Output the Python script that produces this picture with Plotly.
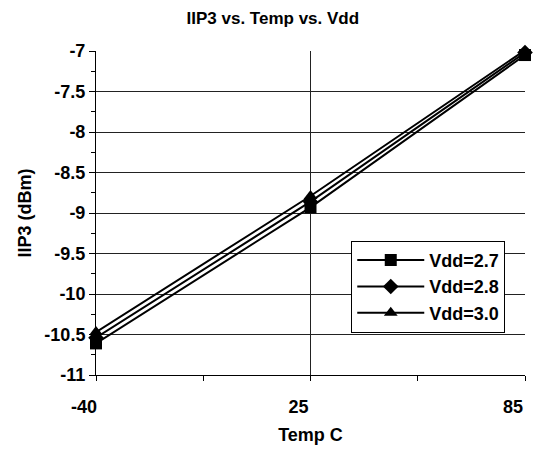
import plotly.graph_objects as go

temps = ["-40", "25", "85"]
vdd27 = [-10.61, -8.93, -7.05]
vdd28 = [-10.54, -8.86, -7.02]
vdd30 = [-10.47, -8.79, -6.99]
series_names = ["Vdd=2.7", "Vdd=2.8", "Vdd=3.0"]
y_ticks = [-11, -10.5, -10, -9.5, -9, -8.5, -8, -7.5, -7]

FONT = "Liberation Sans, Arial, sans-serif"
BOLD18 = dict(family=FONT, size=18, color="black", weight="bold")

fig = go.Figure()
symbols = ["square", "diamond", "triangle-up"]
sizes = [12, 12, 12]
for name, vals, sym, sz in zip(series_names, [vdd27, vdd28, vdd30], symbols, sizes):
    fig.add_trace(go.Scatter(
        x=temps, y=vals, name=name, mode="lines+markers",
        line=dict(color="black", width=2),
        marker=dict(symbol=sym, size=sz, color="black"),
        cliponaxis=False,
    ))

# page body has an 8px margin, so the figure is sized/offset to compensate
fig.update_layout(
    width=535, height=443,
    margin=dict(l=88, r=18, t=43, b=76),
    paper_bgcolor="white", plot_bgcolor="white",
    font=BOLD18,
    title=dict(text="IIP3 vs. Temp vs. Vdd", x=0.495, xanchor="center",
               y=0.977, yanchor="middle",
               font=dict(family=FONT, size=17, color="black", weight="bold")),
    legend=dict(x=0.595, y=0.414, xanchor="left", yanchor="top",
                bgcolor="white", bordercolor="black", borderwidth=1,
                font=BOLD18, tracegroupgap=0, itemwidth=67),
    showlegend=True,
)
fig.update_xaxes(
    type="category", range=[0, 2], automargin=False,
    title=dict(text="Temp C", standoff=12, font=BOLD18),
    tickfont=BOLD18,
    ticklabelshift=-12, ticklabelstandoff=10,
    showline=True, linecolor="black", linewidth=1,
    ticks="outside", ticklen=5, tickcolor="black",
    minor=dict(tickvals=[0.5, 1.5], ticks="outside", ticklen=5,
               tickcolor="black", showgrid=False),
    showgrid=True, gridcolor="#222", gridwidth=1,
    zeroline=False, mirror=False,
)
fig.update_yaxes(
    range=[-11, -7], tickvals=y_ticks, automargin=False,
    ticktext=["%g" % v for v in y_ticks],
    title=dict(text="IIP3 (dBm)", standoff=8, font=BOLD18),
    tickfont=BOLD18,
    showline=True, linecolor="black", linewidth=1,
    ticks="outside", ticklen=6, tickcolor="black",
    minor=dict(dtick=0.25, ticks="outside", ticklen=4, tickcolor="black", showgrid=False),
    showgrid=True, gridcolor="#222", gridwidth=1,
    zeroline=False,
)
fig.write_html("out.html")
